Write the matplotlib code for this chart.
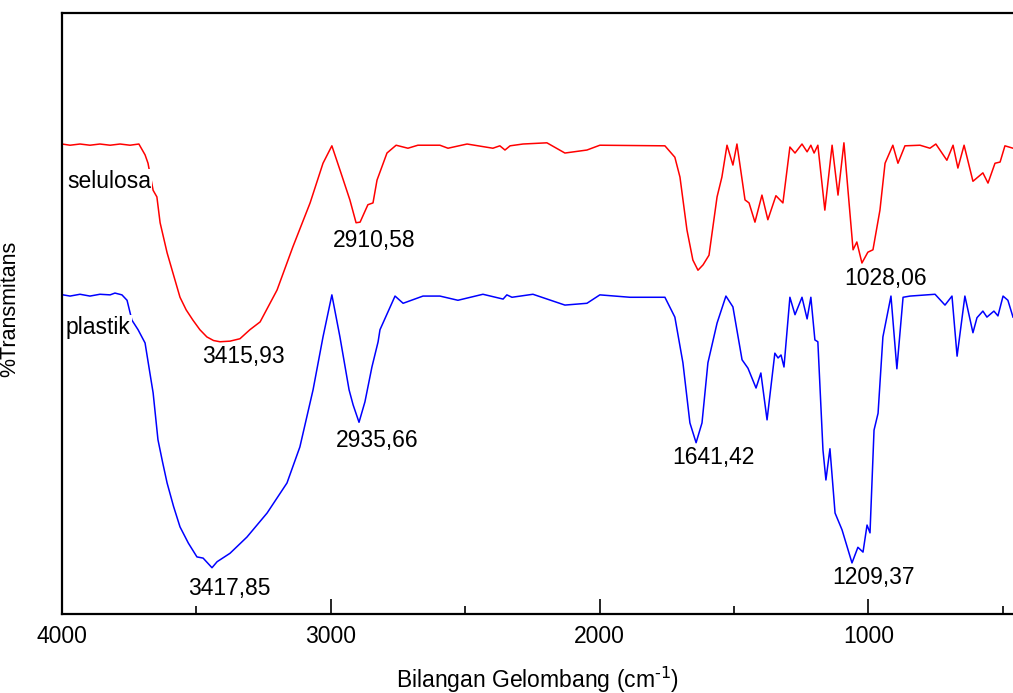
import matplotlib
matplotlib.use('Agg')
import matplotlib.pyplot as plt
from matplotlib.ticker import MultipleLocator

plt.rcParams['font.family'] = ['Liberation Sans', 'DejaVu Sans']

# FTIR spectra, wavenumber (cm-1) vs relative transmittance
wn_selulosa = [4000, 3970, 3933, 3896, 3859, 3821, 3784, 3747, 3714, 3691,
               3680, 3661, 3647, 3635, 3609, 3587, 3561, 3538, 3513, 3487,
               3461, 3436, 3412, 3375, 3338, 3301, 3263, 3200, 3141, 3077,
               3029, 2996, 2966, 2929, 2906, 2891, 2862, 2843, 2828, 2791,
               2757, 2713, 2676, 2594, 2564, 2493, 2397, 2371, 2352, 2333,
               2285, 2196, 2129, 2047, 1999, 1757, 1720, 1701, 1675, 1653,
               1634, 1615, 1593, 1563, 1545, 1526, 1504, 1489, 1459, 1444,
               1422, 1396, 1374, 1344, 1318, 1292, 1273, 1247, 1228, 1214,
               1202, 1188, 1162, 1135, 1113, 1091, 1057, 1043, 1024, 1002,
               983, 957, 938, 909, 890, 864, 808, 771, 749, 708,
               685, 667, 644, 611, 574, 555, 529, 510, 492, 462]
t_selulosa = [78.2, 78.0, 78.2, 78.0, 78.2, 78.0, 78.2, 78.0, 78.2, 76.4,
              75.0, 70.5, 69.4, 65.1, 60.1, 56.7, 52.7, 50.6, 48.9, 47.3,
              46.1, 45.5, 45.3, 45.4, 45.8, 47.3, 48.6, 53.9, 61.1, 68.4,
              75.0, 77.9, 73.9, 68.9, 65.1, 65.2, 68.1, 68.4, 72.2, 76.7,
              78.0, 77.5, 78.0, 78.0, 77.5, 78.2, 77.5, 77.9, 77.2, 77.9,
              78.2, 78.4, 76.7, 77.2, 78.0, 77.9, 76.0, 72.7, 63.9, 58.9,
              57.2, 58.1, 59.7, 69.4, 72.7, 78.0, 74.7, 78.2, 68.9, 68.4,
              65.2, 69.7, 65.6, 69.6, 68.4, 77.7, 76.7, 78.2, 76.9, 78.0,
              76.7, 78.0, 67.2, 78.0, 69.7, 78.4, 60.6, 61.9, 58.4, 60.2,
              60.6, 67.2, 75.0, 78.0, 75.0, 77.9, 78.0, 77.5, 78.2, 75.5,
              78.0, 74.2, 78.0, 72.0, 73.4, 71.7, 75.0, 75.2, 77.9, 77.5]

wn_plastik = [3996, 3970, 3933, 3896, 3859, 3821, 3803, 3777, 3758, 3740,
              3717, 3691, 3673, 3661, 3643, 3626, 3609, 3585, 3561, 3530,
              3498, 3475, 3442, 3423, 3375, 3312, 3237, 3163, 3115, 3066,
              3029, 2996, 2966, 2932, 2917, 2895, 2873, 2847, 2824, 2817,
              2761, 2731, 2657, 2594, 2527, 2434, 2359, 2345, 2326, 2248,
              2129, 2047, 1999, 1887, 1757, 1720, 1690, 1664, 1641, 1619,
              1597, 1563, 1530, 1504, 1470, 1448, 1418, 1400, 1377, 1348,
              1336, 1325, 1314, 1292, 1273, 1247, 1228, 1214, 1199, 1188,
              1169, 1158, 1143, 1124, 1098, 1061, 1039, 1020, 1005, 994,
              979, 964, 946, 916, 894, 871, 845, 752, 715, 689,
              670, 641, 611, 596, 574, 559, 533, 518, 499, 481, 462]
t_plastik = [53.1, 52.9, 53.2, 52.9, 53.2, 53.1, 53.4, 53.1, 52.2, 48.9,
             47.3, 45.1, 40.1, 36.8, 29.0, 25.3, 21.8, 17.9, 14.5, 11.8,
             9.5, 9.3, 7.7, 8.7, 10.1, 12.8, 16.8, 21.8, 27.8, 37.3,
             46.1, 53.1, 46.1, 37.3, 34.8, 31.9, 35.3, 41.1, 45.3, 47.3,
             52.9, 51.7, 52.9, 52.9, 52.2, 53.2, 52.4, 53.1, 52.7, 53.2,
             51.4, 51.7, 53.1, 52.7, 52.7, 49.4, 41.8, 31.8, 28.5, 31.8,
             41.8, 48.4, 52.9, 51.1, 42.3, 40.9, 37.6, 40.1, 32.3, 43.4,
             42.6, 43.1, 41.1, 52.7, 49.8, 52.7, 49.1, 52.7, 45.6, 45.3,
             27.3, 22.3, 27.5, 16.8, 14.0, 8.5, 11.1, 10.3, 14.8, 13.5,
             30.6, 33.4, 46.1, 52.9, 40.8, 52.7, 52.9, 53.2, 51.4, 52.9,
             42.9, 52.9, 46.8, 49.3, 50.4, 49.4, 50.4, 49.6, 52.9, 52.2, 49.4]

# peak annotations: text, wavenumber (left edge), transmittance
peak_labels = ['2910,58', '3415,93', '1028,06', '2935,66', '1641,42', '3417,85', '1209,37']
peak_wn = [2992, 3479, 1091, 2981, 1731, 3531, 1135]
peak_t = [62.2, 42.8, 55.9, 28.8, 26.0, 4.3, 6.0]


fig = plt.figure(figsize=(10.13, 6.93), dpi=100)
ax = fig.add_axes([62 / 1013, 79 / 693, 951 / 1013, 601 / 693])

ax.plot(wn_selulosa, t_selulosa, color='#ff0000', lw=1.1)
ax.plot(wn_plastik, t_plastik, color='#0000ff', lw=1.1)

ax.set_xlim(4000, 462)
ax.set_ylim(0, 100)

ax.spines['right'].set_visible(False)
for side in ['left', 'top', 'bottom']:
    ax.spines[side].set_linewidth(1.6)

ax.xaxis.set_major_locator(MultipleLocator(1000))
ax.xaxis.set_minor_locator(MultipleLocator(500))
ax.tick_params(axis='x', which='major', direction='in', length=11, width=1.2,
               labelsize=16.5, pad=8)
ax.tick_params(axis='x', which='minor', direction='in', length=6, width=1.2)
ax.set_yticks([])

ax.set_xlabel('Bilangan Gelombang (cm$^{\\text{-1}}$)', fontsize=16.5, labelpad=12)
ax.set_ylabel('%Transmitans', fontsize=15.5)
ax.yaxis.set_label_coords(-0.044, 0.507)

box = dict(facecolor='white', edgecolor='none', pad=1)
ax.text(3981, 71.9, 'selulosa', fontsize=16.5, ha='left', va='center', bbox=box)
ax.text(3985, 47.6, 'plastik', fontsize=16.5, ha='left', va='center', bbox=box)

for label, x, y in zip(peak_labels, peak_wn, peak_t):
    ax.text(x, y, label, fontsize=16.5, ha='left', va='center')

fig.savefig('out.png', dpi=100)
